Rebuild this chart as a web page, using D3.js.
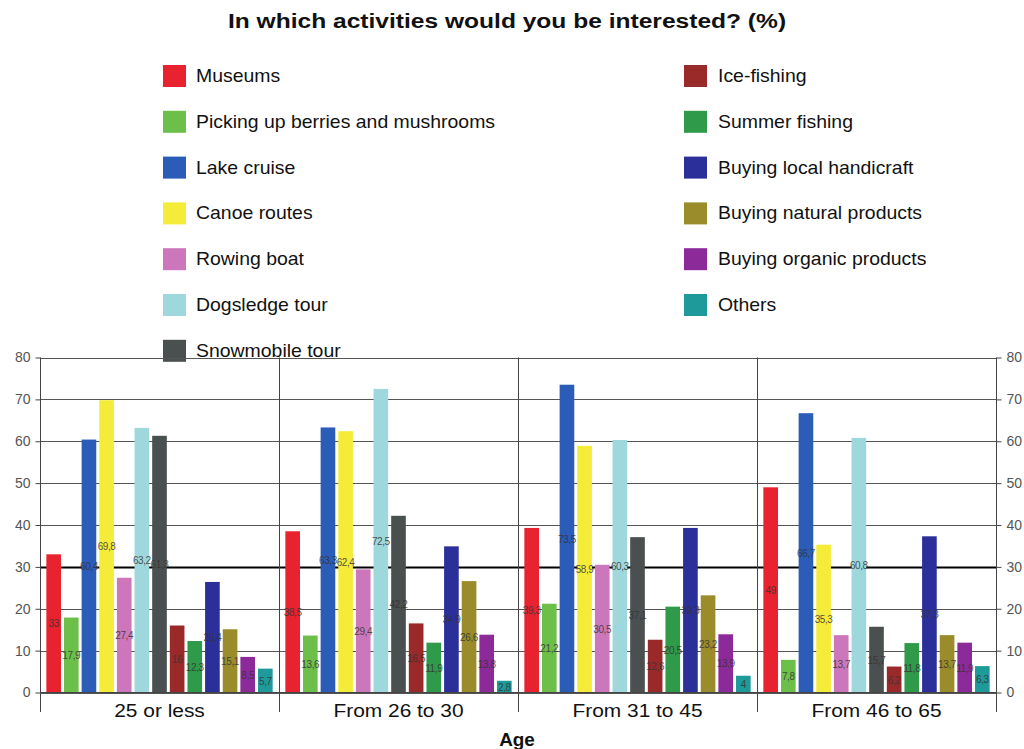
<!DOCTYPE html>
<html>
<head>
<meta charset="utf-8">
<script src="https://cdn.jsdelivr.net/npm/d3@7"></script>
<style>
  html, body { margin: 0; padding: 0; background: #fff; }
  svg { display: block; font-family: "Liberation Sans", Arial, sans-serif; }
</style>
</head>
<body>
<svg id="chart" width="1024" height="749"></svg>
<script>
const title = "In which activities would you be interested? (%)";
const xTitle = "Age";
const groups = ["25 or less", "From 26 to 30", "From 31 to 45", "From 46 to 65"];
const activities = ["Museums", "Picking up berries and mushrooms", "Lake cruise", "Canoe routes",
  "Rowing boat", "Dogsledge tour", "Snowmobile tour", "Ice-fishing", "Summer fishing",
  "Buying local handicraft", "Buying natural products", "Buying organic products", "Others"];
const colors = ["#e8222e", "#6cc04a", "#2a5cb8", "#f5ec3a", "#cc77bb", "#9ed8dc", "#4a4f4f",
  "#9a2a2a", "#2e9a4a", "#2a2f9a", "#9a8c2a", "#8c2a9a", "#1f9a9a"];
// values per group, in activity order
const values25orLess = [33, 17.9, 60.4, 69.8, 27.4, 63.2, 61.3, 16, 12.3, 26.4, 15.1, 8.5, 5.7];
const values26to30 = [38.5, 13.6, 63.3, 62.4, 29.4, 72.5, 42.2, 16.5, 11.9, 34.9, 26.6, 13.8, 2.8];
const values31to45 = [39.3, 21.2, 73.5, 58.9, 30.5, 60.3, 37.1, 12.6, 20.5, 39.3, 23.2, 13.9, 4];
const values46to65 = [49, 7.8, 66.7, 35.3, 13.7, 60.8, 15.7, 6.2, 11.8, 37.3, 13.7, 11.9, 6.3];
const yTicks = [0, 10, 20, 30, 40, 50, 60, 70, 80];

const seriesByGroup = [values25orLess, values26to30, values31to45, values46to65];

const svg = d3.select("#chart");
const pLeft = 40, pRight = 996, pTop = 357.5, pBottom = 692.5;

const x0 = d3.scaleBand().domain(groups).range([pLeft, pRight]).padding(0);
const x1 = d3.scaleBand().domain(activities).range([0, x0.bandwidth()])
  .paddingInner(0.17).paddingOuter(0.36);
const y = d3.scaleLinear().domain([0, 80]).range([pBottom, pTop]);
const color = d3.scaleOrdinal().domain(activities).range(colors);

function stretchedText(parent, x, yy, sx, txt) {
  return parent.append("text").attr("transform", `translate(${x},${yy}) scale(${sx},1)`).text(txt);
}

// title
stretchedText(svg, 507, 28, 1.17, title).attr("text-anchor", "middle")
  .attr("font-size", 21).attr("font-weight", "bold").attr("fill", "#111");

// legend
const legendLeft = activities.slice(0, 7), legendRight = activities.slice(7);
function legendCol(items, sx, tx) {
  const g = svg.append("g");
  items.forEach((a, i) => {
    const cy = 76 + i * 45.8;
    g.append("rect").attr("x", sx).attr("y", cy - 11).attr("width", 23).attr("height", 22)
      .attr("fill", color(a));
    stretchedText(g, tx, cy + 6, 1.08, a).attr("font-size", 18).attr("fill", "#111");
  });
}
legendCol(legendLeft, 163, 196);
legendCol(legendRight, 684, 718);

// gridlines
svg.append("g").selectAll("line").data(yTicks).join("line")
  .attr("x1", pLeft).attr("x2", pRight)
  .attr("y1", d => Math.round(y(d)) + 0.5).attr("y2", d => Math.round(y(d)) + 0.5)
  .attr("stroke", d => d === 30 ? "#000" : "#555")
  .attr("stroke-width", d => d === 30 ? 2 : 1);

// bars
const gGroups = svg.append("g").selectAll("g").data(groups).join("g")
  .attr("transform", d => `translate(${x0(d)},0)`);
gGroups.selectAll("rect").data((g, gi) => activities.map((a, i) => ({a, v: seriesByGroup[gi][i]})))
  .join("rect")
  .attr("x", d => x1(d.a)).attr("width", x1.bandwidth())
  .attr("y", d => y(d.v)).attr("height", d => y(0) - y(d.v))
  .attr("fill", d => color(d.a));
gGroups.selectAll("text").data((g, gi) => activities.map((a, i) => ({a, v: seriesByGroup[gi][i]})))
  .join("text")
  .attr("x", d => x1(d.a) + x1.bandwidth() / 2)
  .attr("y", d => (y(d.v) + y(0)) / 2 + 4)
  .attr("text-anchor", "middle").attr("font-size", 10).attr("letter-spacing", -0.4)
  .attr("fill", "#333").attr("fill-opacity", 0.85)
  .text(d => String(d.v).replace(".", ","));

// separators (group boundaries)
const seps = groups.map(g => x0(g)).concat([pRight]);
svg.append("g").selectAll("line").data(seps).join("line")
  .attr("x1", d => Math.round(d) + 0.5).attr("x2", d => Math.round(d) + 0.5)
  .attr("y1", pTop).attr("y2", 712).attr("stroke", "#444").attr("stroke-width", 1);

// axes
const yAxisL = d3.axisLeft(y).tickValues(yTicks).tickSize(5).tickPadding(5).tickFormat(d3.format("d"));
const gL = svg.append("g").attr("transform", `translate(${pLeft + 0.5},0)`).call(yAxisL);
const yAxisR = d3.axisRight(y).tickValues(yTicks).tickSize(5).tickPadding(5).tickFormat(d3.format("d"));
const gR = svg.append("g").attr("transform", `translate(${Math.round(pRight) + 0.5},0)`).call(yAxisR);
[gL, gR].forEach(g => {
  g.select(".domain").remove();
  g.selectAll("line").attr("stroke", "#444");
  g.selectAll("text").attr("font-size", 14).attr("fill", "#555")
    .attr("font-family", "'Liberation Sans', Arial, sans-serif");
});

// x axis line
svg.append("line").attr("x1", pLeft).attr("x2", pRight).attr("y1", 692.5).attr("y2", 692.5)
  .attr("stroke", "#444");

// category labels
const gCat = svg.append("g");
groups.forEach(g => {
  stretchedText(gCat, x0(g) + x0.bandwidth() / 2, 717, 1.1, g)
    .attr("text-anchor", "middle").attr("font-size", 19).attr("fill", "#111");
});

stretchedText(svg, 517, 746, 1.05, xTitle).attr("text-anchor", "middle")
  .attr("font-size", 18).attr("font-weight", "bold").attr("fill", "#111");
</script>
</body>
</html>
